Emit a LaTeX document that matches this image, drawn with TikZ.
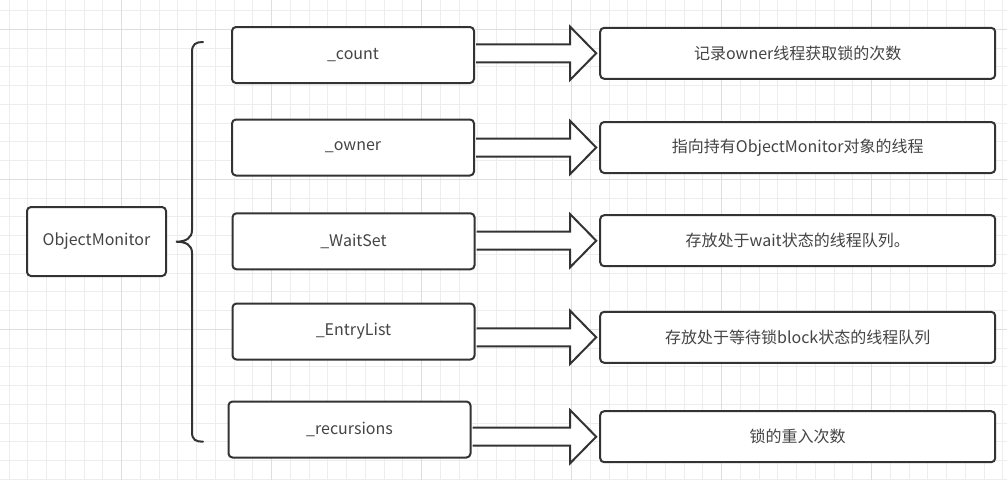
\documentclass[tikz,border=0pt]{standalone}
\usepackage{fontspec}
\setmainfont{Noto Sans CJK SC}
\usetikzlibrary{calc}
\definecolor{gridminor}{HTML}{EDEDED}
\definecolor{gridmajor}{HTML}{DEDEDE}
\definecolor{edge}{HTML}{333333}
\definecolor{txt}{HTML}{444444}
\tikzset{
 box/.style={draw=edge, line width=2pt, rounded corners=4pt, fill=white, inner sep=0pt, text=txt, font=\fontsize{16}{19}\selectfont},
 field/.style={box, minimum width=242pt, minimum height=56pt},
 desc/.style={box, minimum width=395pt, minimum height=51pt},
 blockarrow/.style={draw=edge, line width=2pt, fill=white, line join=miter},
 bracepath/.style={draw=edge, line width=2pt, line cap=round},
 gridline/.style={line width=1pt}
}
\begin{document}
\begin{tikzpicture}[x=1pt,y=-1pt]
\useasboundingbox (0,0) rectangle (1007,480);
\fill[white] (0,0) rectangle (1007,480);
\foreach \i in {0,...,53} { \draw[gridline, gridminor] ({9.2+\i*18.75},0) -- ({9.2+\i*18.75},480); }
\foreach \j in {0,...,25} { \draw[gridline, gridminor] (0,{10.55+\j*18.75}) -- (1007,{10.55+\j*18.75}); }
\foreach \i in {0,...,5} { \draw[gridline, gridmajor] ({121.7+\i*150},0) -- ({121.7+\i*150},480); }
\foreach \j in {0,...,2} { \draw[gridline, gridmajor] (0,{29.3+\j*150}) -- (1007,{29.3+\j*150}); }

\node[box, minimum width=139pt, minimum height=69pt] (om) at (96.5,241.5) {ObjectMonitor};

\node[field] (count) at (353,55) {\_count};
\node[field] (owner) at (353,147.5) {\_owner};
\node[field] (waitset) at (353.5,241.3) {\_WaitSet};
\node[field] (entry) at (353.5,331.5) {\_EntryList};
\node[field] (rec) at (349.5,429.5) {\_recursions};

\node[desc] (d1) at (797.7,53.3) {记录owner线程获取锁的次数};
\node[desc] (d2) at (797.7,147.5) {指向持有ObjectMonitor对象的线程};
\node[desc] (d3) at (797.7,240.7) {存放处于wait状态的线程队列。};
\node[desc] (d4) at (797.7,337.3) {存放处于等待锁block状态的线程队列};
\node[desc] (d5) at (797.7,436.7) {锁的重入次数};

\foreach \a/\b in {count/d1,owner/d2,waitset/d3,entry/d4,rec/d5} {
 \coordinate (S) at ($(\a.east |- \b.west)+(1,0)$);
 \coordinate (T) at ($(\b.west)+(-3,0)$);
 \filldraw[blockarrow] ($(S)+(0,-9)$) -- ($(T)+(-26,-9)$) -- ($(T)+(-26,-26.5)$) -- (T) -- ($(T)+(-26,26.5)$) -- ($(T)+(-26,9)$) -- ($(S)+(0,9)$);
}

\draw[bracepath] (203,42) .. controls (196,42) and (192,44) .. (192,52) -- (192,230)
 .. controls (192,238) and (186,241.7) .. (176,241.7)
 .. controls (186,241.7) and (192,245) .. (192,253) -- (192,432)
 .. controls (192,440) and (196,441.7) .. (203,441.7);
\end{tikzpicture}
\end{document}
